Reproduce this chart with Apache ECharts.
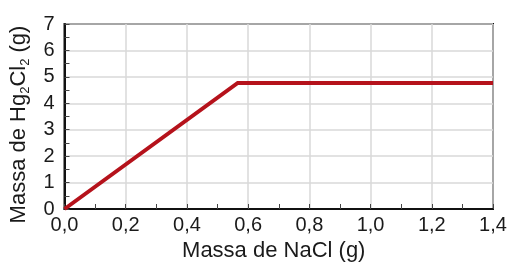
<!DOCTYPE html>
<html><head><meta charset="utf-8">
<script src="https://cdn.jsdelivr.net/npm/echarts@6/dist/echarts.min.js"></script>
<style>html,body{margin:0;padding:0;background:#fff}#c{width:519px;height:270px}</style>
</head><body><div id="c"></div>
<script>
var massNaCl = [0, 0.566, 1.4];
var massHg2Cl2 = [0, 4.77, 4.77];
var xTicks = {min: 0, max: 1.4, interval: 0.2};
var yTicks = {min: 0, max: 7, interval: 1};

var chart = echarts.init(document.getElementById('c'));
var font = 'Liberation Sans, Arial, sans-serif';
chart.setOption({
  animation: false,
  grid: {left: 64, right: 26, top: 24, bottom: 61, show: true, borderColor: '#111', borderWidth: 2, backgroundColor: 'transparent'},
  xAxis: {
    type: 'value', min: xTicks.min, max: xTicks.max, interval: xTicks.interval,
    name: 'Massa de NaCl (g)', nameLocation: 'middle', nameGap: 28,
    nameTextStyle: {fontSize: 22, color: '#1a1a1a', fontFamily: font, padding: [0, 10, 0, 0]},
    axisLine: {show: true, lineStyle: {color: '#111', width: 2}},
    axisTick: {show: true, inside: true, length: 5, lineStyle: {color: '#444'}},
    minorTick: {show: true, splitNumber: 2, length: 5, lineStyle: {color: '#444'}},
    splitLine: {show: true, lineStyle: {color: '#d9d9d9', width: 1.5}},
    axisLabel: {fontSize: 20, color: '#1a1a1a', fontFamily: font, margin: 6,
      formatter: function(v){ return v.toFixed(1).replace('.', ','); }}
  },
  yAxis: {
    type: 'value', min: yTicks.min, max: yTicks.max, interval: yTicks.interval,
    name: '{a|Massa de Hg}{s|2}{a|Cl}{s|2}{a| (g)}', nameLocation: 'middle', nameGap: 33, nameRotate: 90,
    nameTextStyle: {color: '#1a1a1a', fontFamily: font, padding: [0, 16, 0, 0],
      rich: {a: {fontSize: 22, color: '#1a1a1a', fontFamily: font, verticalAlign: 'middle'},
             s: {fontSize: 13, color: '#1a1a1a', fontFamily: font, verticalAlign: 'bottom', padding: [12, 0, 0, 0]}}},
    axisLine: {show: true, lineStyle: {color: '#111', width: 2}},
    axisTick: {show: true, inside: true, length: 5, lineStyle: {color: '#444'}},
    minorTick: {show: true, splitNumber: 2, length: 5, lineStyle: {color: '#444'}},
    splitLine: {show: true, lineStyle: {color: '#d9d9d9', width: 1.5}},
    axisLabel: {fontSize: 20, color: '#1a1a1a', fontFamily: font, margin: 10}
  },
  series: [{
    type: 'line', showSymbol: false, symbol: 'none',
    data: massNaCl.map(function(x, i){ return [x, massHg2Cl2[i]]; }),
    lineStyle: {color: '#b5121b', width: 4, cap: 'butt', join: 'miter'},
    clip: false
  }]
});
</script></body></html>
